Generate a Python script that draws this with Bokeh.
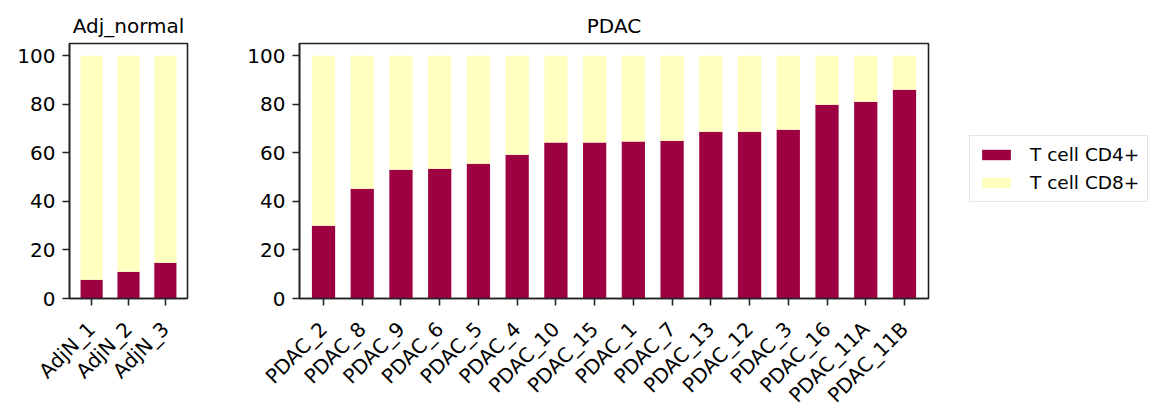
import math
from bokeh.plotting import figure
from bokeh.models import FactorRange, Range1d, FixedTicker, Legend, LegendItem, ColumnDataSource
from bokeh.layouts import row
from bokeh.embed import file_html
from bokeh.resources import INLINE

# ---- data ----
adj_samples = ["AdjN_1", "AdjN_2", "AdjN_3"]
adj_cd4 = [7.7, 11.0, 14.7]
adj_cd8 = [92.3, 89.0, 85.3]

pdac_samples = ["PDAC_2", "PDAC_8", "PDAC_9", "PDAC_6", "PDAC_5", "PDAC_4", "PDAC_10",
                "PDAC_15", "PDAC_1", "PDAC_7", "PDAC_13", "PDAC_12", "PDAC_3", "PDAC_16",
                "PDAC_11A", "PDAC_11B"]
pdac_cd4 = [30.0, 45.2, 53.0, 53.4, 55.5, 59.2, 64.2, 64.2, 64.6, 65.0, 68.7, 68.7,
            69.5, 79.8, 81.0, 86.0]
pdac_cd8 = [70.0, 54.8, 47.0, 46.6, 44.5, 40.8, 35.8, 35.8, 35.4, 35.0, 31.3, 31.3,
            30.5, 20.2, 19.0, 14.0]

series_names = ["T cell CD4+", "T cell CD8+"]
series_colors = ["#9e0142", "#ffffbf"]
y_ticks = [0, 20, 40, 60, 80, 100]

FONT = "DejaVu Sans"


def make_fig(title, samples, cd4, cd8, frame_w, pad, border_left, border_right):
    p = figure(
        x_range=FactorRange(*samples, range_padding=pad, range_padding_units="absolute"),
        y_range=Range1d(0, 105),
        frame_width=frame_w, frame_height=255,
        min_border_left=border_left, min_border_right=border_right,
        min_border_top=43, min_border_bottom=115,
        output_backend="svg", toolbar_location=None, title=title,
    )
    src = ColumnDataSource(dict(sample=samples, cd4=cd4, cd8=cd8))
    rs = p.vbar_stack(["cd4", "cd8"], x="sample", width=0.6, color=series_colors,
                      line_color=None, source=src)
    p.title.align = "center"
    p.title.text_font = FONT
    p.title.text_font_size = "20px"
    p.title.text_font_style = "normal"
    p.title.text_color = "black"
    p.title.standoff = 11
    p.xgrid.visible = False
    p.ygrid.visible = False
    p.outline_line_color = "#222222"
    p.outline_line_width = 1.6
    p.outline_line_alpha = 1.0
    p.yaxis.ticker = FixedTicker(ticks=y_ticks)
    for ax in (p.xaxis[0], p.yaxis[0]):
        ax.axis_line_color = "#222222"
        ax.axis_line_width = 1.6
        ax.major_tick_line_color = "#222222"
        ax.major_tick_line_width = 1.6
        ax.major_tick_out = 7
        ax.major_tick_in = 0
        ax.minor_tick_line_color = None
        ax.major_label_text_font = FONT
        ax.major_label_text_font_size = "20px"
        ax.major_label_text_color = "black"
        ax.major_label_standoff = 7
    p.xaxis.major_label_orientation = math.pi / 4
    p.xaxis.major_label_standoff = 20
    p.background_fill_color = "white"
    p.border_fill_color = "white"
    return p, rs


p1, _ = make_fig("Adj_normal", adj_samples, adj_cd4, adj_cd8, 118, 0.1, 69, 10)
p2, rs2 = make_fig("PDAC", pdac_samples, pdac_cd4, pdac_cd8, 629, 0.12, 102, 226)

legend = Legend(
    items=[LegendItem(label=series_names[0], renderers=[rs2[0]]),
           LegendItem(label=series_names[1], renderers=[rs2[1]])],
    location=(41, 96),
)
legend.margin = 0
legend.label_text_font = FONT
legend.label_text_font_size = "18.5px"
legend.label_text_color = "black"
legend.glyph_width = 36
legend.glyph_height = 13
legend.label_standoff = 16
legend.label_height = 21
legend.spacing = 7
legend.padding = 8
legend.border_line_color = "#cccccc"
legend.border_line_width = 1.2
legend.background_fill_color = "white"
p2.add_layout(legend, "right")

layout = row(p1, p2)
open("out.html", "w").write(file_html(layout, INLINE))
